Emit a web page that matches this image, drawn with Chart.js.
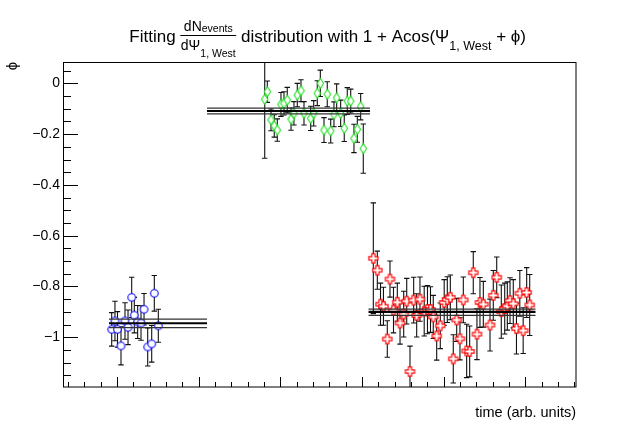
<!DOCTYPE html>
<html><head><meta charset="utf-8">
<script src="https://cdn.jsdelivr.net/npm/chart.js@4/dist/chart.umd.min.js"></script>
<style>html,body{margin:0;padding:0;background:#fff;}canvas{display:block;}</style>
</head><body>
<canvas id="c" width="640" height="436"></canvas>
<script>
const FONT = '"Liberation Sans", Arial, Helvetica, sans-serif';

// ---------------- data ----------------
const blueX = [-0.76,-0.36,-0.05,0.38,0.87,1.24,1.69,2.01,2.42,2.83,3.20,3.65,4.14,4.46,4.95];
const blueY = [-0.969,-0.936,-0.969,-1.034,-0.936,-0.961,-0.843,-0.913,-0.940,-0.944,-0.890,-1.038,-1.026,-0.827,-0.955];
const blueErr = [0.066,0.078,0.070,0.075,0.072,0.068,0.079,0.070,0.065,0.068,0.062,0.075,0.072,0.070,0.065];

const greenX = [17.98,18.30,18.75,19.15,19.52,19.97,20.34,20.74,21.20,21.56,21.97,22.42,22.79,23.61,23.98,24.42,24.79,25.24,25.64,26.06,26.46,26.79,27.28,27.72,28.09,28.51,28.91,29.32,29.73,30.05];
const greenY = [-0.063,-0.033,-0.144,-0.168,-0.184,-0.083,-0.079,-0.066,-0.141,-0.118,-0.046,-0.029,-0.118,-0.138,-0.118,-0.039,0.000,-0.184,-0.043,-0.188,-0.122,-0.057,-0.118,-0.177,-0.070,-0.070,-0.217,-0.181,-0.092,-0.257];
const greenErr = [0.232,0.042,0.043,0.044,0.044,0.047,0.046,0.050,0.044,0.046,0.046,0.043,0.046,0.048,0.050,0.049,0.052,0.049,0.049,0.047,0.049,0.055,0.052,0.052,0.053,0.047,0.056,0.051,0.052,0.097];

const redX = [31.28,31.77,32.16,32.52,32.99,33.32,33.75,34.22,34.55,35.00,35.37,35.77,36.22,36.59,36.99,37.51,37.91,38.28,38.62,39.04,39.48,39.96,40.34,40.71,41.07,41.49,41.89,42.30,42.71,43.08,43.52,43.97,44.34,44.75,45.57,45.97,46.39,46.95,47.37,47.69,48.02,48.42,48.81,49.22,49.63,50.06,50.43];
const redY = [-0.689,-0.736,-0.870,-0.878,-1.007,-0.771,-0.893,-0.862,-0.944,-0.909,-0.858,-1.135,-0.854,-0.914,-0.850,-0.897,-0.891,-0.891,-0.920,-0.995,-0.955,-0.863,-0.852,-0.843,-1.085,-0.932,-1.006,-0.853,-1.054,-1.056,-0.746,-0.988,-0.863,-0.870,-0.952,-0.835,-0.764,-0.899,-0.887,-0.877,-0.856,-0.868,-0.966,-0.827,-0.974,-0.824,-0.873];
const redErr = [0.218,0.075,0.083,0.075,0.072,0.071,0.090,0.075,0.083,0.090,0.090,0.100,0.090,0.085,0.087,0.098,0.095,0.090,0.085,0.095,0.090,0.090,0.090,0.088,0.095,0.085,0.083,0.090,0.105,0.100,0.083,0.100,0.098,0.090,0.102,0.098,0.080,0.105,0.100,0.095,0.090,0.095,0.100,0.090,0.090,0.098,0.120];

// fit results: x extent, [lower band, central, upper band]
const blueFitX = [-1.09, 10.91];
const blueFit = [-0.962, -0.945, -0.929];
const greenFitX = [10.91, 30.87];
const greenFit = [-0.120, -0.109, -0.098];
const redFitX = [30.69, 51.14];
const redFit = [-0.914, -0.900, -0.889];

const yTickValues = [-1, -0.8, -0.6, -0.4, -0.2, 0];
const yTickLabels = ['\u22121', '\u22120.8', '\u22120.6', '\u22120.4', '\u22120.2', '0'];
const xRange = [-6.6, 56.1];
const yRange = [-1.196, 0.084];

// ---------------- markers ----------------
function marker(kind, color) {
  const c = document.createElement('canvas');
  const w = 13, h = 13;
  c.width = w; c.height = h;
  const g = c.getContext('2d');
  g.lineWidth = 1.1; g.strokeStyle = color; g.fillStyle = '#fff';
  const cx = w / 2, cy = h / 2;
  g.beginPath();
  if (kind === 'circle') {
    g.arc(cx, cy, 3.8, 0, Math.PI * 2);
  } else if (kind === 'diamond') {
    g.moveTo(cx, cy - 5); g.lineTo(cx + 3.2, cy); g.lineTo(cx, cy + 5); g.lineTo(cx - 3.2, cy); g.closePath();
  } else {
    const a = 1.6, b = 4.6;
    const p = [[-a,-b],[a,-b],[a,-a],[b,-a],[b,a],[a,a],[a,b],[-a,b],[-a,a],[-b,a],[-b,-a],[-a,-a]];
    p.forEach((q, i) => i ? g.lineTo(cx + q[0], cy + q[1]) : g.moveTo(cx + q[0], cy + q[1]));
    g.closePath();
  }
  g.fill(); g.stroke();
  return c;
}

const pts = (xs, ys) => xs.map((x, i) => ({ x, y: ys[i] }));

function fitSets(xs, vals) {
  return vals.map((v, i) => ({
    type: 'line',
    data: [{ x: xs[0], y: v }, { x: xs[1], y: v }],
    borderColor: i === 1 ? '#000' : '#333',
    borderWidth: i === 1 ? 2.2 : 1.2,
    pointRadius: 0, fill: false, order: 0
  }));
}

function scatterSet(xs, ys, errs, style) {
  return {
    type: 'scatter', data: pts(xs, ys), errors: errs,
    pointStyle: style, pointRadius: 6, pointHoverRadius: 6, order: 1
  };
}

// ---------------- plugins ----------------
const frameAndErrors = {
  id: 'frameAndErrors',
  beforeDatasetsDraw(chart) {
    const { ctx, chartArea: a, scales: { x, y } } = chart;
    ctx.save();
    ctx.strokeStyle = '#000'; ctx.lineWidth = 1;
    ctx.strokeRect(a.left - 0.5, a.top + 0.5, a.right - a.left + 0.5, a.bottom - a.top - 0.5);
    ctx.beginPath();
    for (let k = -3; k <= 28; k++) {
      const v = 2 * k;
      if (v < xRange[0] || v > xRange[1]) continue;
      const px = Math.round(x.getPixelForValue(v)) - 0.5;
      const len = (k % 5 === 0) ? 10 : 5;
      ctx.moveTo(px, a.bottom); ctx.lineTo(px, a.bottom - len);
    }
    for (let k = -23; k <= 1; k++) {
      const v = k * 0.05;
      if (v < yRange[0] || v > yRange[1]) continue;
      const py = Math.round(y.getPixelForValue(v)) + 0.5;
      const len = (k % 4 === 0) ? 14 : 7;
      ctx.moveTo(a.left, py); ctx.lineTo(a.left + len, py);
    }
    ctx.stroke();
    ctx.beginPath(); ctx.rect(a.left, a.top, a.right - a.left, a.bottom - a.top); ctx.clip();
    ctx.strokeStyle = '#111'; ctx.lineWidth = 1.1;
    chart.data.datasets.forEach(ds => {
      if (!ds.errors) return;
      ds.data.forEach((p, i) => {
        const px = x.getPixelForValue(p.x);
        const y1 = y.getPixelForValue(p.y + ds.errors[i]);
        const y2 = y.getPixelForValue(p.y - ds.errors[i]);
        ctx.beginPath();
        ctx.moveTo(px, y1); ctx.lineTo(px, y2);
        ctx.moveTo(px - 2.7, y1); ctx.lineTo(px + 2.7, y1);
        ctx.moveTo(px - 2.7, y2); ctx.lineTo(px + 2.7, y2);
        ctx.stroke();
      });
    });
    ctx.restore();
  }
};

const titles = {
  id: 'titles',
  afterDraw(chart) {
    const ctx = chart.ctx;
    ctx.save();
    ctx.fillStyle = '#000'; ctx.strokeStyle = '#000';
    ctx.textBaseline = 'alphabetic'; ctx.textAlign = 'left';
    const F = s => s + 'px ' + FONT;
    const W = (t, s) => { ctx.font = F(s); return ctx.measureText(t).width; };
    const T = (t, s, x, y) => { ctx.font = F(s); ctx.fillText(t, x, y); return ctx.measureText(t).width; };
    const base = 42, mainS = 17, subS = 12.5, fracS = 14, fracSub = 10.5;
    const p1 = 'Fitting ';
    const numW = W('dN', fracS) + W('events', fracSub);
    const denW = W('d\u03A8', fracS) + W('1, West', fracSub);
    const fracW = Math.max(numW, denW) + 1;
    const p3 = ' distribution with 1 + Acos(\u03A8';
    const p4 = '1, West';
    const p5 = ' + \u03D5)';
    const total = W(p1, mainS) + fracW + W(p3, mainS) + W(p4, subS) + W(p5, mainS);
    let x = 526 - total;
    x += T(p1, mainS, x, base);
    let nx = x + (fracW - numW) / 2;
    nx += T('dN', fracS, nx, 31);
    T('events', fracSub, nx, 32);
    let dx = x + (fracW - denW) / 2;
    dx += T('d\u03A8', fracS, dx, 50);
    T('1, West', fracSub, dx, 57);
    ctx.lineWidth = 1;
    ctx.beginPath(); ctx.moveTo(x, 35.5); ctx.lineTo(x + fracW, 35.5); ctx.stroke();
    x += fracW;
    x += T(p3, mainS, x, base);
    x += T(p4, subS, x, 50);
    T(p5, mainS, x, base);
    ctx.translate(13, 66);
    ctx.rotate(-Math.PI / 2);
    ctx.textAlign = 'center'; ctx.textBaseline = 'middle';
    ctx.font = F(15);
    ctx.fillText('\u03D5', 0, 0);
    ctx.restore();
  }
};

// ---------------- chart ----------------
const datasets = [
  ...fitSets(blueFitX, blueFit),
  ...fitSets(greenFitX, greenFit),
  ...fitSets(redFitX, redFit),
  scatterSet(blueX, blueY, blueErr, marker('circle', '#0000ff')),
  scatterSet(greenX, greenY, greenErr, marker('diamond', '#22e022')),
  scatterSet(redX, redY, redErr, marker('cross', '#ff0000'))
];

new Chart(document.getElementById('c'), {
  type: 'scatter',
  data: { datasets },
  options: {
    responsive: false, animation: false, devicePixelRatio: 1,
    layout: { padding: { top: 62, right: 64, left: 0, bottom: 0 } },
    plugins: { legend: { display: false }, tooltip: { enabled: false }, title: { display: false } },
    scales: {
      x: {
        type: 'linear', min: xRange[0], max: xRange[1],
        grid: { display: false }, border: { display: false },
        ticks: { display: false },
        afterFit: s => { s.height = 49; },
        title: { display: true, text: 'time (arb. units)', align: 'end', color: '#000',
                 font: { family: FONT, size: 14.5 }, padding: { top: 0, bottom: 14.3 } }
      },
      y: {
        type: 'linear', min: yRange[0], max: yRange[1],
        grid: { display: false, drawTicks: false }, border: { display: false },
        ticks: { color: '#000', font: { family: FONT, size: 14 }, padding: 4,
                 callback: (v, i) => yTickLabels[i] },
        afterBuildTicks: s => { s.ticks = yTickValues.map(v => ({ value: v })); },
        afterFit: s => { s.width = 64; }
      }
    }
  },
  plugins: [frameAndErrors, titles]
});
</script>
</body></html>
